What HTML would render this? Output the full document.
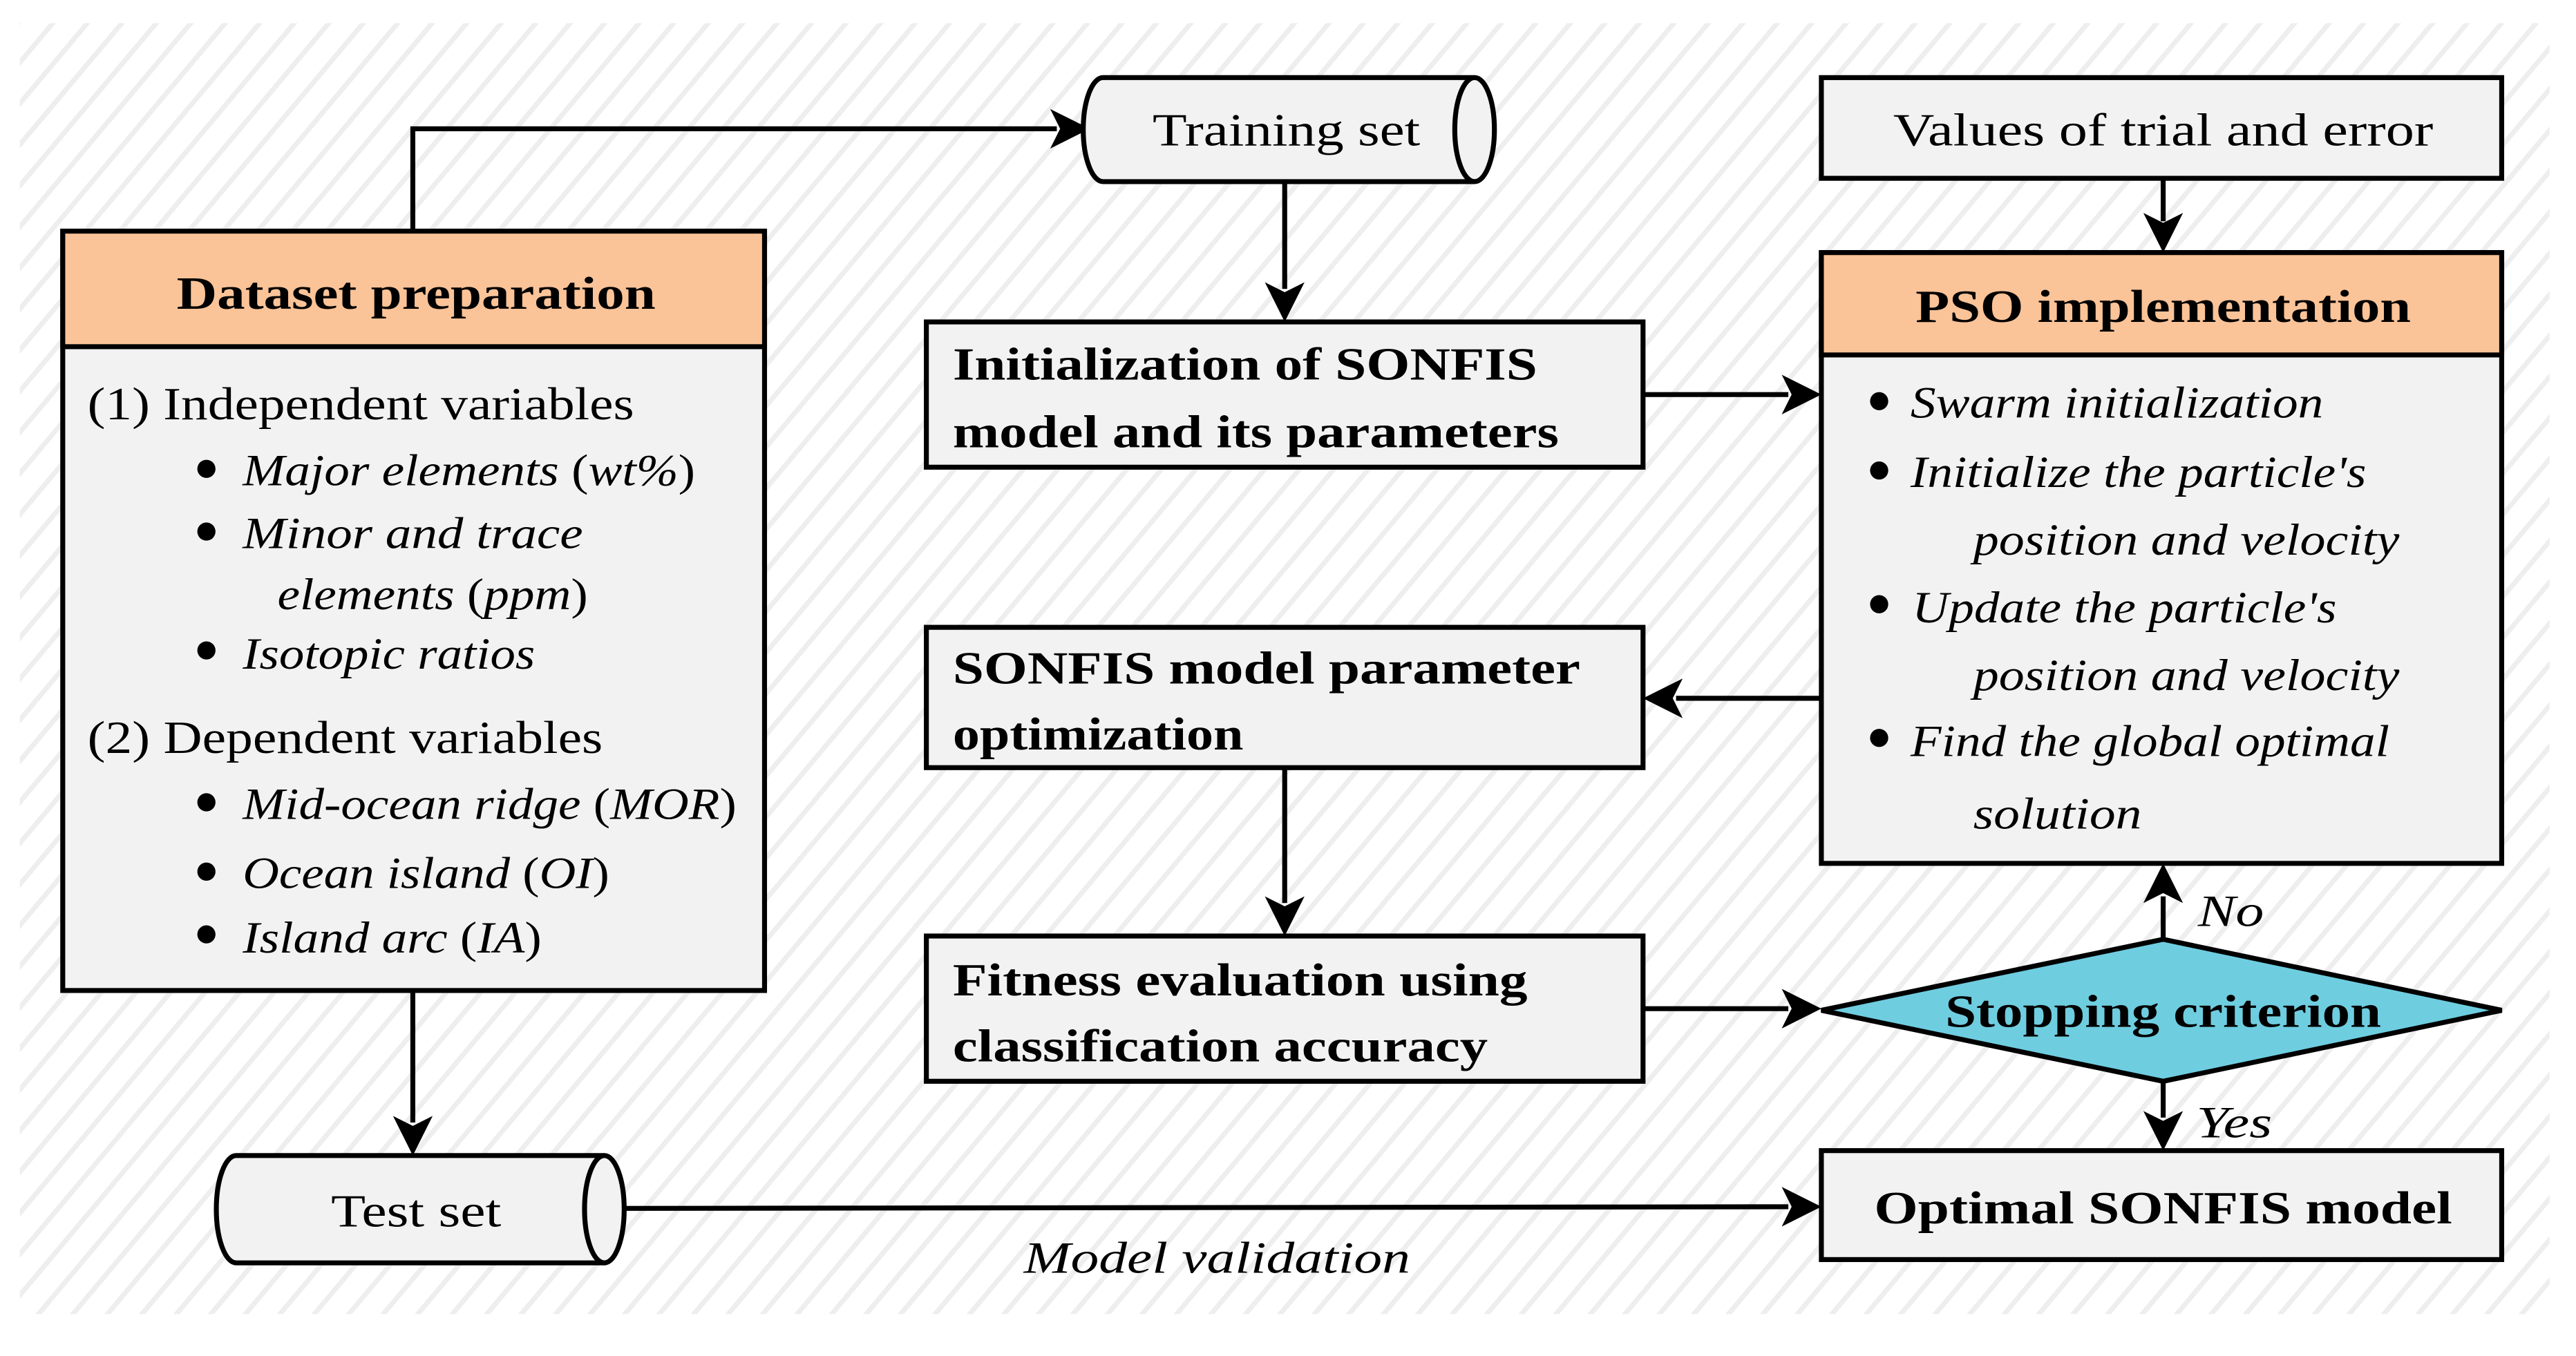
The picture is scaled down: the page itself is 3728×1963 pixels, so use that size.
<!DOCTYPE html>
<html><head><meta charset="utf-8"><style>html,body{margin:0;padding:0;background:#fff}svg{display:block}text{font-family:"Liberation Serif","Times New Roman",serif}</style></head>
<body>
<svg width="3728" height="1963" viewBox="0 0 1560 821.4" xmlns="http://www.w3.org/2000/svg">
<defs>
<pattern id="h" width="16" height="16" patternUnits="userSpaceOnUse" patternTransform="rotate(40)">
<rect width="16" height="16" fill="#fff"/><rect x="0" y="0" width="3" height="16" fill="#eeeeee"/>
</pattern>
</defs>
<rect x="0" y="0" width="1560" height="821.4" fill="#fff"/>
<rect x="12" y="14" width="1532" height="782" fill="url(#h)"/>
<g stroke="#000" stroke-width="3" fill="none">
<polyline points="250,140 250,78 640,78"/>
<polygon points="660,78 636,66 642,78 636,90" fill="#000" stroke="none"/>
<line x1="778" y1="110" x2="778" y2="175"/>
<polygon points="778,195 766,171 778,177 790,171" fill="#000" stroke="none"/>
<line x1="995" y1="239" x2="1083" y2="239"/>
<polygon points="1103,239 1079,227 1085,239 1079,251" fill="#000" stroke="none"/>
<line x1="1310" y1="108" x2="1310" y2="134"/>
<polygon points="1310,153 1298,129 1310,135 1322,129" fill="#000" stroke="none"/>
<line x1="1103" y1="423" x2="1015" y2="423"/>
<polygon points="995,423 1019,411 1013,423 1019,435" fill="#000" stroke="none"/>
<line x1="778" y1="465" x2="778" y2="547"/>
<polygon points="778,567 766,543 778,549 790,543" fill="#000" stroke="none"/>
<line x1="995" y1="611" x2="1083" y2="611"/>
<polygon points="1103,611 1079,599 1085,611 1079,623" fill="#000" stroke="none"/>
<line x1="1310" y1="569" x2="1310" y2="543"/>
<polygon points="1310,523 1298,547 1310,541 1322,547" fill="#000" stroke="none"/>
<line x1="1310" y1="655" x2="1310" y2="677"/>
<polygon points="1310,697 1298,673 1310,679 1322,673" fill="#000" stroke="none"/>
<line x1="250" y1="600" x2="250" y2="680"/>
<polygon points="250,700 238,676 250,682 262,676" fill="#000" stroke="none"/>
<line x1="378" y1="732" x2="1083" y2="731"/>
<polygon points="1103,731 1079,719 1085,731 1079,743" fill="#000" stroke="none"/>
</g>
<g stroke="#000" stroke-width="3">
<rect x="38" y="140" width="425" height="460" fill="#f2f2f2"/>
<rect x="38" y="140" width="425" height="70" fill="#fac398"/>
<path d="M668,47 H893 A12,31.5 0 0 1 893,110 H668 A12,31.5 0 0 1 668,47 Z" fill="#f2f2f2"/>
<path d="M893,47 A12,31.5 0 0 0 893,110" fill="none"/>
<path d="M143,700 H366 A12,32.5 0 0 1 366,765 H143 A12,32.5 0 0 1 143,700 Z" fill="#f2f2f2"/>
<path d="M366,700 A12,32.5 0 0 0 366,765" fill="none"/>
<rect x="561" y="195" width="434" height="88" fill="#f2f2f2"/>
<rect x="561" y="380" width="434" height="85" fill="#f2f2f2"/>
<rect x="561" y="567" width="434" height="88" fill="#f2f2f2"/>
<rect x="1103" y="47" width="412" height="61" fill="#f2f2f2"/>
<rect x="1103" y="153" width="412" height="370" fill="#f2f2f2"/>
<rect x="1103" y="153" width="412" height="62" fill="#fac398"/>
<polygon points="1103,612 1310,569 1515,612 1310,655" fill="#6fcde0"/>
<rect x="1103" y="697" width="412" height="66" fill="#f2f2f2"/>
</g>
<g fill="#000" font-size="28">
<text x="252" y="187" font-weight="bold" text-anchor="middle" textLength="290" lengthAdjust="spacingAndGlyphs">Dataset preparation</text>
<text x="53" y="254" textLength="331" lengthAdjust="spacingAndGlyphs">(1) Independent variables</text>
<text x="53" y="456" textLength="312" lengthAdjust="spacingAndGlyphs">(2) Dependent variables</text>
<g font-size="27">
<circle cx="125" cy="284" r="5.5"/><text x="147" y="294" textLength="274" lengthAdjust="spacingAndGlyphs"><tspan font-style="italic">Major elements </tspan>(<tspan font-style="italic">wt%</tspan>)</text>
<circle cx="125" cy="322" r="5.5"/><text x="147" y="332" font-style="italic" textLength="206" lengthAdjust="spacingAndGlyphs">Minor  and trace</text>
<text x="168" y="369" textLength="188" lengthAdjust="spacingAndGlyphs"><tspan font-style="italic">elements </tspan>(<tspan font-style="italic">ppm</tspan>)</text>
<circle cx="125" cy="394" r="5.5"/><text x="147" y="405" font-style="italic" textLength="177" lengthAdjust="spacingAndGlyphs">Isotopic ratios</text>
<circle cx="125" cy="486" r="5.5"/><text x="147" y="496" textLength="299" lengthAdjust="spacingAndGlyphs"><tspan font-style="italic">Mid-ocean ridge </tspan>(<tspan font-style="italic">MOR</tspan>)</text>
<circle cx="125" cy="528" r="5.5"/><text x="147" y="538" textLength="222" lengthAdjust="spacingAndGlyphs"><tspan font-style="italic">Ocean island </tspan>(<tspan font-style="italic">OI</tspan>)</text>
<circle cx="125" cy="566" r="5.5"/><text x="147" y="577" textLength="181" lengthAdjust="spacingAndGlyphs"><tspan font-style="italic">Island arc </tspan>(<tspan font-style="italic">IA</tspan>)</text>
</g>
<text x="779" y="88" text-anchor="middle" textLength="162" lengthAdjust="spacingAndGlyphs">Training set</text>
<text x="252" y="743" text-anchor="middle" textLength="103" lengthAdjust="spacingAndGlyphs">Test set</text>
<text x="1310" y="88" text-anchor="middle" textLength="327" lengthAdjust="spacingAndGlyphs">Values of trial and error</text>
<g font-weight="bold">
<text x="577" y="230" textLength="354" lengthAdjust="spacingAndGlyphs">Initialization of SONFIS</text>
<text x="577" y="271" textLength="367" lengthAdjust="spacingAndGlyphs">model and its parameters</text>
<text x="577" y="414" textLength="380" lengthAdjust="spacingAndGlyphs">SONFIS model parameter</text>
<text x="577" y="454" textLength="176" lengthAdjust="spacingAndGlyphs">optimization</text>
<text x="577" y="603" textLength="348" lengthAdjust="spacingAndGlyphs">Fitness evaluation using</text>
<text x="577" y="643" textLength="324" lengthAdjust="spacingAndGlyphs">classification accuracy</text>
<text x="1310" y="195" text-anchor="middle" textLength="300" lengthAdjust="spacingAndGlyphs">PSO implementation</text>
<text x="1310" y="622" text-anchor="middle" textLength="264" lengthAdjust="spacingAndGlyphs">Stopping criterion</text>
<text x="1310" y="741" text-anchor="middle" textLength="350" lengthAdjust="spacingAndGlyphs">Optimal SONFIS model</text>
</g>
<g font-style="italic" font-size="27">
<circle cx="1138" cy="243" r="5.5"/><text x="1157" y="253" textLength="250" lengthAdjust="spacingAndGlyphs">Swarm initialization</text>
<circle cx="1138" cy="285" r="5.5"/><text x="1157" y="295" textLength="276" lengthAdjust="spacingAndGlyphs">Initialize the particle's</text>
<text x="1195" y="336" textLength="258" lengthAdjust="spacingAndGlyphs">position and velocity</text>
<circle cx="1138" cy="366" r="5.5"/><text x="1158" y="377" textLength="257" lengthAdjust="spacingAndGlyphs">Update the particle's</text>
<text x="1195" y="418" textLength="258" lengthAdjust="spacingAndGlyphs">position and velocity</text>
<circle cx="1138" cy="447" r="5.5"/><text x="1157" y="458" textLength="290" lengthAdjust="spacingAndGlyphs">Find the global optimal</text>
<text x="1195" y="502" textLength="102" lengthAdjust="spacingAndGlyphs">solution</text>
<text x="1331" y="561" textLength="40" lengthAdjust="spacingAndGlyphs">No</text>
<text x="1330" y="689" textLength="46" lengthAdjust="spacingAndGlyphs">Yes</text>
<text x="737" y="771" text-anchor="middle" textLength="234" lengthAdjust="spacingAndGlyphs">Model validation</text>
</g>
</g>
</svg>
</body></html>
